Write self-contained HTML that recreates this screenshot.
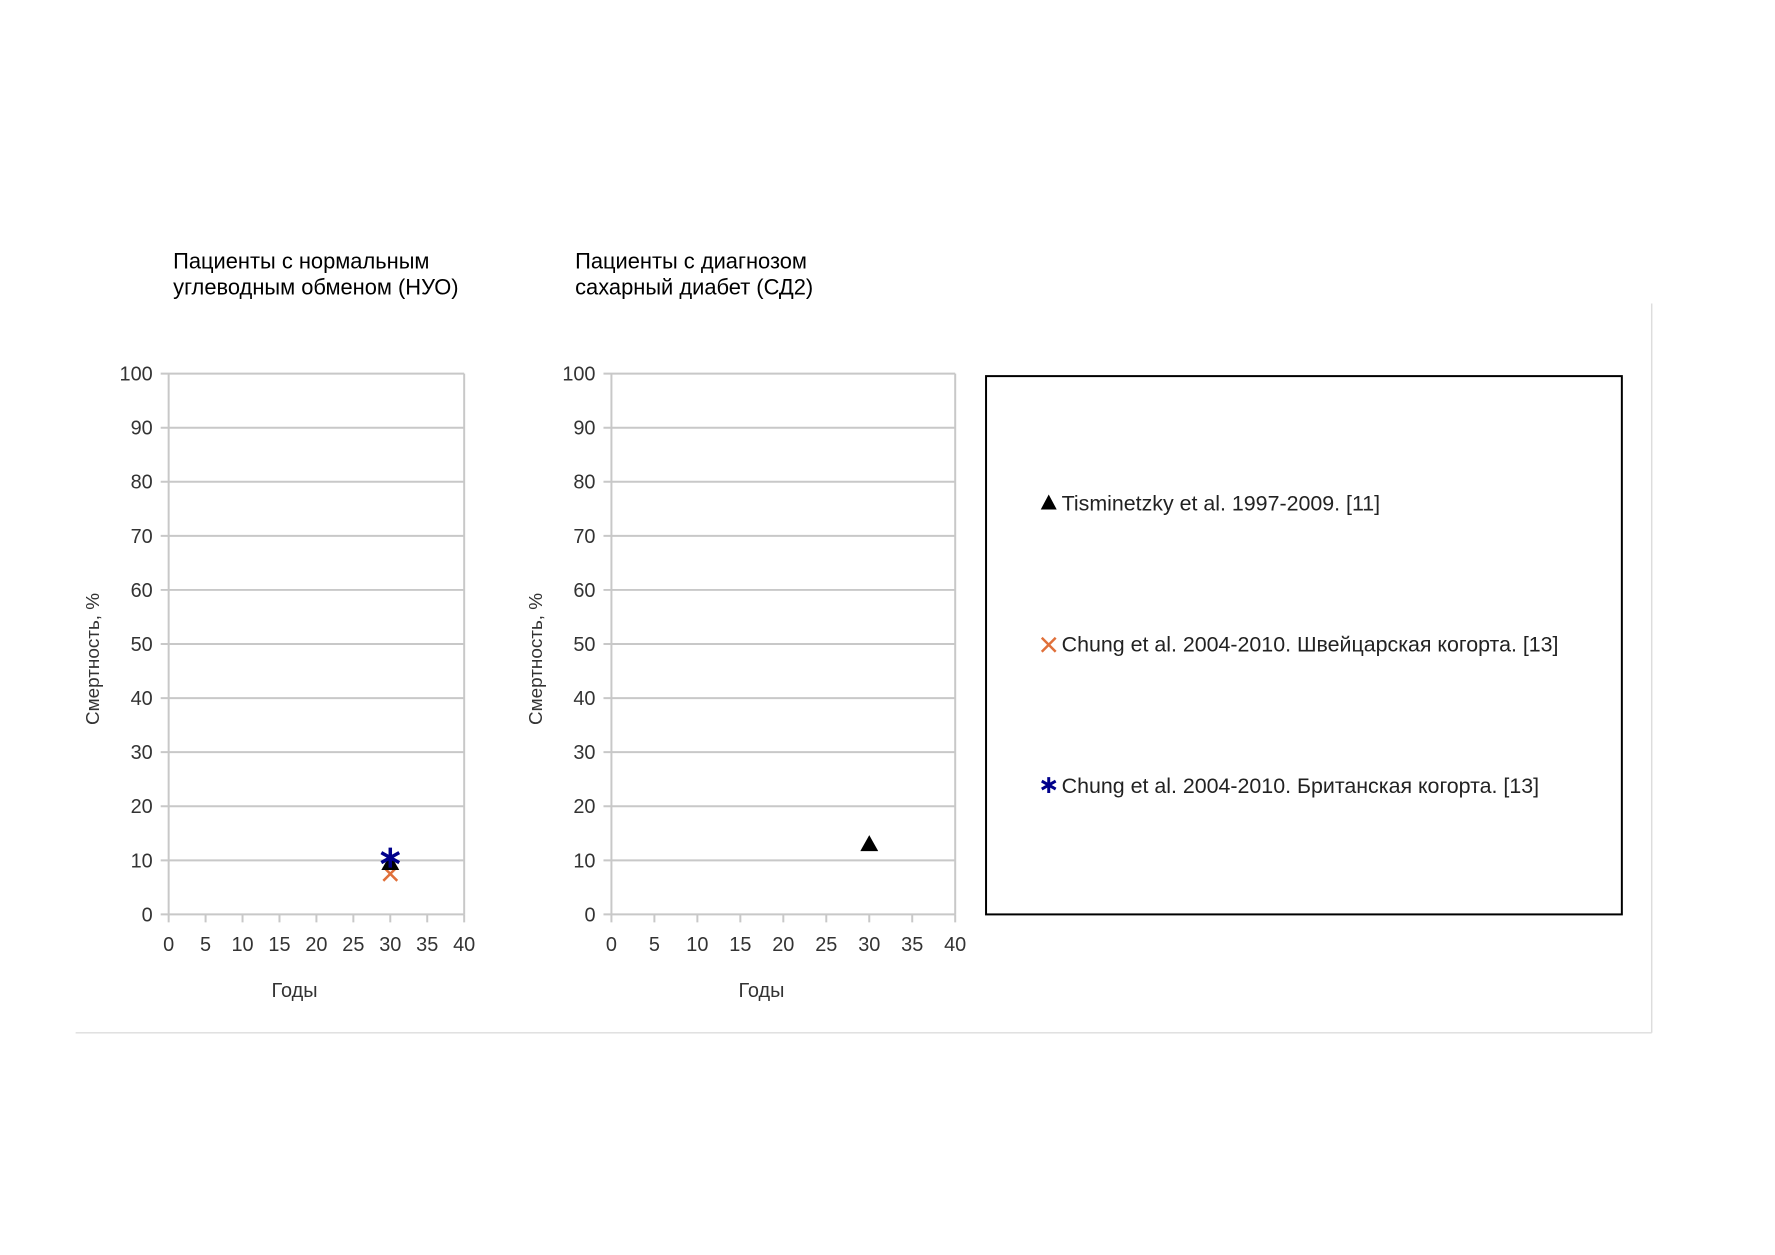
<!DOCTYPE html>
<html><head><meta charset="utf-8"><style>
body{margin:0;background:#fff;}
svg{display:block;font-family:"Liberation Sans",sans-serif;}
</style></head><body>
<svg id="s" width="1775" height="1255" viewBox="0 0 1775 1255">
<g transform="scale(0.995)">
<line x1="1660" y1="305" x2="1660" y2="1038" stroke="#ddd" stroke-width="1.5"/>
<line x1="76" y1="1038" x2="1660" y2="1038" stroke="#ddd" stroke-width="1.5"/>
<text x="174" y="270" font-size="22" fill="#000"><tspan x="174">Пациенты с нормальным</tspan><tspan x="174" y="296">углеводным обменом (НУО)</tspan></text>
<text x="578" y="270" font-size="22" fill="#000"><tspan x="578">Пациенты с диагнозом</tspan><tspan x="578" y="296">сахарный диабет (СД2)</tspan></text>
<g id="c1"></g>
<g id="c2"></g>
<rect x="991" y="378" width="639" height="541" fill="none" stroke="#000" stroke-width="2"/>
<g>
<polygon points="1054,497 1046,512 1062,512" fill="#000"/>
<text x="1067" y="513" font-size="21.5" fill="#222">Tisminetzky et al. 1997-2009. [11]</text></g>
<g>
<path d="M1047,641 L1061,655 M1061,641 L1047,655" stroke="#e0703a" stroke-width="2.5"/>
<text x="1067" y="655" font-size="21.5" fill="#222">Chung et al. 2004-2010. Швейцарская когорта. [13]</text></g>
<g>
<path d="M1054,781L1054,797M1047,785L1061,793M1047,793L1061,785" stroke="#00008b" stroke-width="3"/>
<text x="1067" y="797" font-size="21.5" fill="#222">Chung et al. 2004-2010. Британская когорта. [13]</text></g>
</g>
</svg>
<script>
const xTicks=[0,5,10,15,20,25,30,35,40];
const yTicks=[0,10,20,30,40,50,60,70,80,90,100];
const c1Tri=[[30,9.5]];
const c1Cross=[[30,7.5]];
const c1Star=[[30,10.5]];
const c2Tri=[[30,13]];
const NS="http://www.w3.org/2000/svg";
function mk(p,t,a){const e=document.createElementNS(NS,t);for(const k in a)e.setAttribute(k,a[k]);p.appendChild(e);return e;}
function chart(gid,L,R,T,B,tri,cross,star,prefix){
const g=document.getElementById(gid);
const sx=v=>L+(v-0)/40*(R-L), sy=v=>B-(v/100)*(B-T);
yTicks.forEach(v=>{
 const l=mk(g,'line',{x1:L-8,x2:R,y1:sy(v),y2:sy(v),stroke:'#c8c8c8','stroke-width':2});
 
 
 const t=mk(g,'text',{x:L-16,y:sy(v)+7,'font-size':20,'text-anchor':'end',fill:'#333'});t.textContent=v;
 
 
});
mk(g,'line',{x1:L,x2:L,y1:T,y2:B,stroke:'#c8c8c8','stroke-width':2});
mk(g,'line',{x1:R,x2:R,y1:T,y2:B,stroke:'#c8c8c8','stroke-width':2});
xTicks.forEach(v=>{
 mk(g,'line',{x1:sx(v),x2:sx(v),y1:B,y2:B+8,stroke:'#c8c8c8','stroke-width':2});
 const t=mk(g,'text',{x:sx(v),y:B+37,'font-size':20,'text-anchor':'middle',fill:'#333'});t.textContent=v;
 
 
});
const yt=mk(g,'text',{x:0,y:0,'font-size':19,'text-anchor':'middle',fill:'#333',transform:`translate(${L-70},${(T+B)/2+15}) rotate(-90)`});yt.textContent='Смертность, %';


const xt=mk(g,'text',{x:(L+R)/2-22,y:B+83,'font-size':20,'text-anchor':'middle',fill:'#333'});xt.textContent='Годы';


cross.forEach(p=>{const x=sx(p[0]),y=sy(p[1]);const e=mk(g,'path',{d:`M${x-7},${y-7}L${x+7},${y+7}M${x+7},${y-7}L${x-7},${y+7}`,stroke:'#e0703a','stroke-width':2.5});
 
 });
tri.forEach(p=>{const x=sx(p[0]),y=sy(p[1]);const e=mk(g,'polygon',{points:`${x},${y-9} ${x-9},${y+7} ${x+9},${y+7}`,fill:'#000'});
 
 });
star.forEach(p=>{const x=sx(p[0]),y=sy(p[1]);const e=mk(g,'path',{d:`M${x},${y-10}L${x},${y+10}M${x-9},${y-5}L${x+9},${y+5}M${x-9},${y+5}L${x+9},${y-5}`,stroke:'#00008b','stroke-width':3.5});
 
 });
}
chart('c1',169.5,466.5,375.5,919,c1Tri,c1Cross,c1Star,'nuo');
chart('c2',614.5,960,375.5,919,c2Tri,[],[],'sd2');
</script>
</body></html>
